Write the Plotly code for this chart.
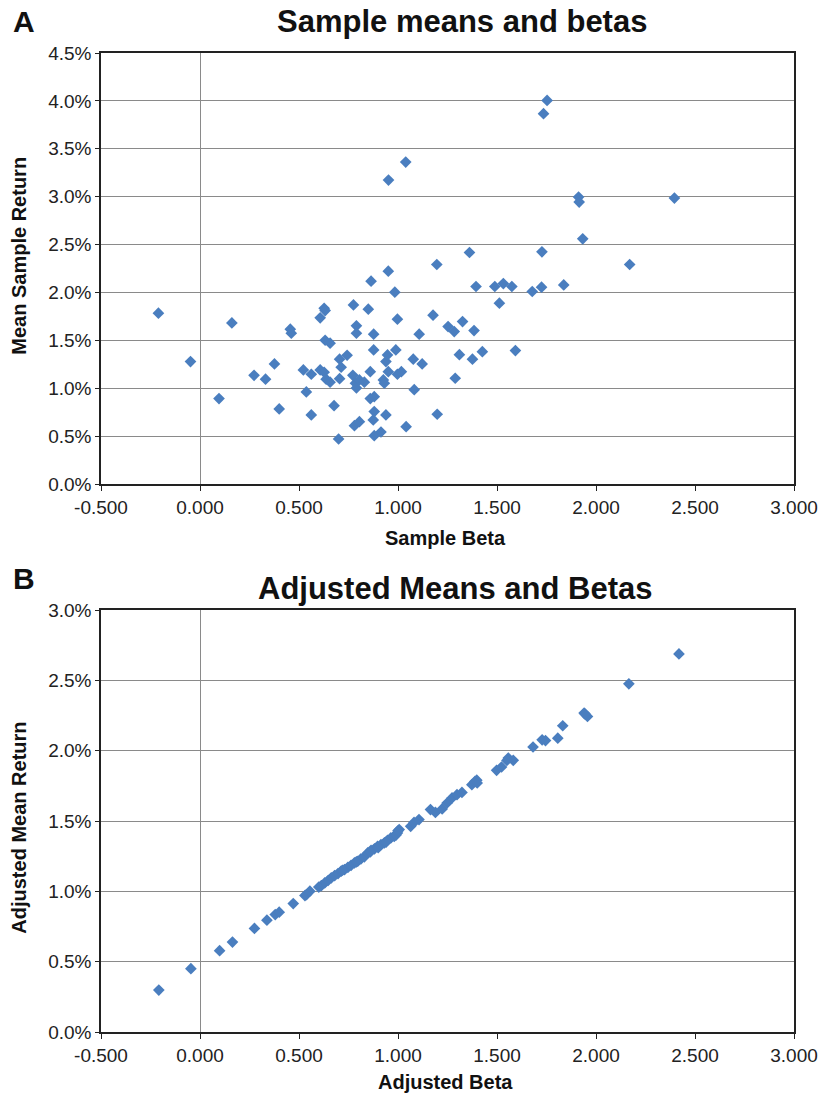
import plotly.graph_objects as go

# ---- Panel A: sample betas and mean sample returns (%) ----
sample_beta = [
    -0.210, -0.048, 0.096, 0.161, 0.273, 0.331, 0.376, 0.400, 0.456, 0.461,
    0.522, 0.537, 0.562, 0.562, 0.607, 0.627, 0.632, 0.607, 0.627, 0.637,
    0.657, 0.632, 0.657, 0.677, 0.700, 0.705, 0.713, 0.705, 0.743, 0.775,
    0.790, 0.790, 0.772, 0.785, 0.790, 0.805, 0.830, 0.780, 0.805, 0.850,
    0.864, 0.860, 0.877, 0.877, 0.860, 0.880, 0.880, 0.875, 0.880, 0.914,
    0.926, 0.931, 0.939, 0.947, 0.951, 0.939, 0.951, 0.952, 1.039, 0.984,
    0.997, 0.989, 0.997, 1.017, 1.041, 1.077, 1.082, 1.107, 1.122, 1.177,
    1.196, 1.198, 1.253, 1.284, 1.289, 1.310, 1.326, 1.361, 1.384, 1.376,
    1.394, 1.426, 1.489, 1.512, 1.532, 1.575, 1.593, 1.678, 1.725, 1.727,
    1.735, 1.753, 1.837, 1.912, 1.915, 1.933, 2.170, 2.396,
]
sample_mean = [
    1.784, 1.278, 0.892, 1.682, 1.135, 1.094, 1.254, 0.784, 1.616, 1.574,
    1.191, 0.961, 1.146, 0.721, 1.735, 1.835, 1.811, 1.191, 1.167, 1.094,
    1.063, 1.501, 1.470, 0.818, 0.470, 1.303, 1.219, 1.100, 1.344, 1.870,
    1.651, 1.574, 1.135, 1.052, 1.003, 1.087, 1.063, 0.609, 0.651, 1.825,
    2.118, 1.173, 1.564, 1.400, 0.892, 0.912, 0.756, 0.669, 0.505, 0.543,
    1.087, 1.052, 1.278, 1.348, 1.173, 0.721, 2.222, 3.173, 3.361, 2.003,
    1.721, 1.400, 1.146, 1.173, 0.599, 1.303, 0.985, 1.564, 1.254, 1.763,
    2.292, 0.728, 1.644, 1.591, 1.104, 1.350, 1.696, 2.417, 1.602, 1.303,
    2.062, 1.382, 2.062, 1.888, 2.093, 2.062, 1.393, 2.010, 2.055, 2.424,
    3.866, 4.005, 2.079, 2.996, 2.944, 2.560, 2.292, 2.985,
]

# ---- Panel B: adjusted betas and adjusted mean returns (%) ----
adj_beta = [
    -0.208, -0.046, 0.099, 0.164, 0.275, 0.338, 0.380, 0.400, 0.471, 0.530,
    0.538, 0.555, 0.613, 0.630, 0.647, 0.663, 0.680, 0.697, 0.713, 0.730,
    0.747, 0.763, 0.780, 0.797, 0.813, 0.830, 0.847, 0.864, 0.881, 0.897,
    0.914, 0.931, 0.947, 0.964, 0.981, 0.997, 1.006, 1.064, 1.081, 1.106,
    1.164, 1.189, 1.223, 1.248, 1.273, 1.298, 1.323, 1.373, 1.389, 1.398,
    1.498, 1.523, 1.557, 1.582, 1.682, 1.728, 1.745, 1.807, 1.832, 1.940,
    1.957, 2.166, 2.419,
    0.600, 0.720, 0.790, 0.860, 0.900, 0.940, 0.990, 1.000, 1.400, 1.550, 1.945,
]
adj_mean = [
    0.298, 0.450, 0.578, 0.639, 0.736, 0.795, 0.835, 0.852, 0.913, 0.970,
    0.977, 1.001, 1.041, 1.060, 1.077, 1.096, 1.112, 1.126, 1.143, 1.155,
    1.171, 1.185, 1.202, 1.214, 1.231, 1.245, 1.273, 1.292, 1.302, 1.320,
    1.332, 1.344, 1.363, 1.380, 1.391, 1.415, 1.439, 1.462, 1.490, 1.510,
    1.581, 1.561, 1.586, 1.628, 1.664, 1.687, 1.703, 1.758, 1.781, 1.790,
    1.860, 1.884, 1.948, 1.931, 2.026, 2.077, 2.072, 2.089, 2.177, 2.267,
    2.243, 2.475, 2.688,
    1.030, 1.150, 1.210, 1.280, 1.310, 1.350, 1.400, 1.430, 1.770, 1.930, 2.260,
]

x_ticks = [-0.5, 0.0, 0.5, 1.0, 1.5, 2.0, 2.5, 3.0]
x_ticklabels = ["-0.500", "0.000", "0.500", "1.000", "1.500", "2.000", "2.500", "3.000"]
y_ticks_a = [0.0, 0.5, 1.0, 1.5, 2.0, 2.5, 3.0, 3.5, 4.0, 4.5]
y_ticklabels_a = ["0.0%", "0.5%", "1.0%", "1.5%", "2.0%", "2.5%", "3.0%", "3.5%", "4.0%", "4.5%"]
y_ticks_b = [0.0, 0.5, 1.0, 1.5, 2.0, 2.5, 3.0]
y_ticklabels_b = ["0.0%", "0.5%", "1.0%", "1.5%", "2.0%", "2.5%", "3.0%"]

FONT = "Liberation Sans, Arial, Helvetica, sans-serif"
BLUE = "#4A7EBF"
marker = dict(symbol="diamond", size=9, color=BLUE, line=dict(width=0))

fig = go.Figure()
fig.add_trace(go.Scatter(x=sample_beta, y=sample_mean, mode="markers",
                         marker=marker, xaxis="x", yaxis="y", showlegend=False))
fig.add_trace(go.Scatter(x=adj_beta, y=adj_mean, mode="markers",
                         marker=marker, xaxis="x2", yaxis="y2", showlegend=False))

W, H = 830, 1098
ML, MR, MT, MB = 101, 30, 53, 66
PW, PH = W - ML - MR, H - MT - MB


def px(x):
    return (x - ML) / PW


def py(y):
    return (H - MB - y) / PH


xaxis_common = dict(
    range=[-0.5, 3.0], tickvals=x_ticks, ticktext=x_ticklabels,
    showgrid=False, zeroline=True, zerolinecolor="#8a8a8a", zerolinewidth=1,
    showline=True, linecolor="#222", linewidth=1.5, mirror=True,
    ticks="outside", ticklen=5, tickcolor="#222",
    tickfont=dict(family=FONT, size=19, color="#222"),
)
yaxis_common = dict(
    showgrid=True, gridcolor="#8a8a8a", gridwidth=1,
    zeroline=False,
    showline=True, linecolor="#222", linewidth=1.5, mirror=True,
    ticks="outside", ticklen=4, tickcolor="#222",
    tickfont=dict(family=FONT, size=19, color="#222"),
)

fig.update_layout(
    width=W, height=H,
    margin=dict(l=ML, r=MR, t=MT, b=MB),
    paper_bgcolor="white", plot_bgcolor="white",
    font=dict(family=FONT, color="#111"),
    xaxis=dict(domain=[0, 1], anchor="y", **xaxis_common),
    yaxis=dict(domain=[py(484), 1.0], anchor="x", range=[0, 4.5],
               tickvals=y_ticks_a, ticktext=y_ticklabels_a, **yaxis_common),
    xaxis2=dict(domain=[0, 1], anchor="y2", **xaxis_common),
    yaxis2=dict(domain=[0, py(610)], anchor="x2", range=[0, 3.0],
                tickvals=y_ticks_b, ticktext=y_ticklabels_b, **yaxis_common),
)

ann = []


def text(x, y, s, size, angle=0):
    ann.append(dict(x=px(x), y=py(y), xref="paper", yref="paper", text=f"<b>{s}</b>",
                    showarrow=False, xanchor="center", yanchor="middle",
                    textangle=angle, font=dict(family=FONT, size=size, color="#111")))


text(23, 21, "A", 30)
text(465, 22, "Sample means and betas", 31)
text(448, 538, "Sample Beta", 20)
text(18, 256, "Mean Sample Return", 20, -90)
text(23, 578, "B", 30)
text(458, 588, "Adjusted Means and Betas", 31)
text(448, 1082, "Adjusted Beta", 20)
text(18, 828, "Adjusted Mean Return", 20, -90)
fig.update_layout(annotations=ann)

fig.write_html(
    "out.html",
    config={"displayModeBar": False},
    post_script="document.body.style.margin='0px';document.body.style.overflow='hidden';",
)
